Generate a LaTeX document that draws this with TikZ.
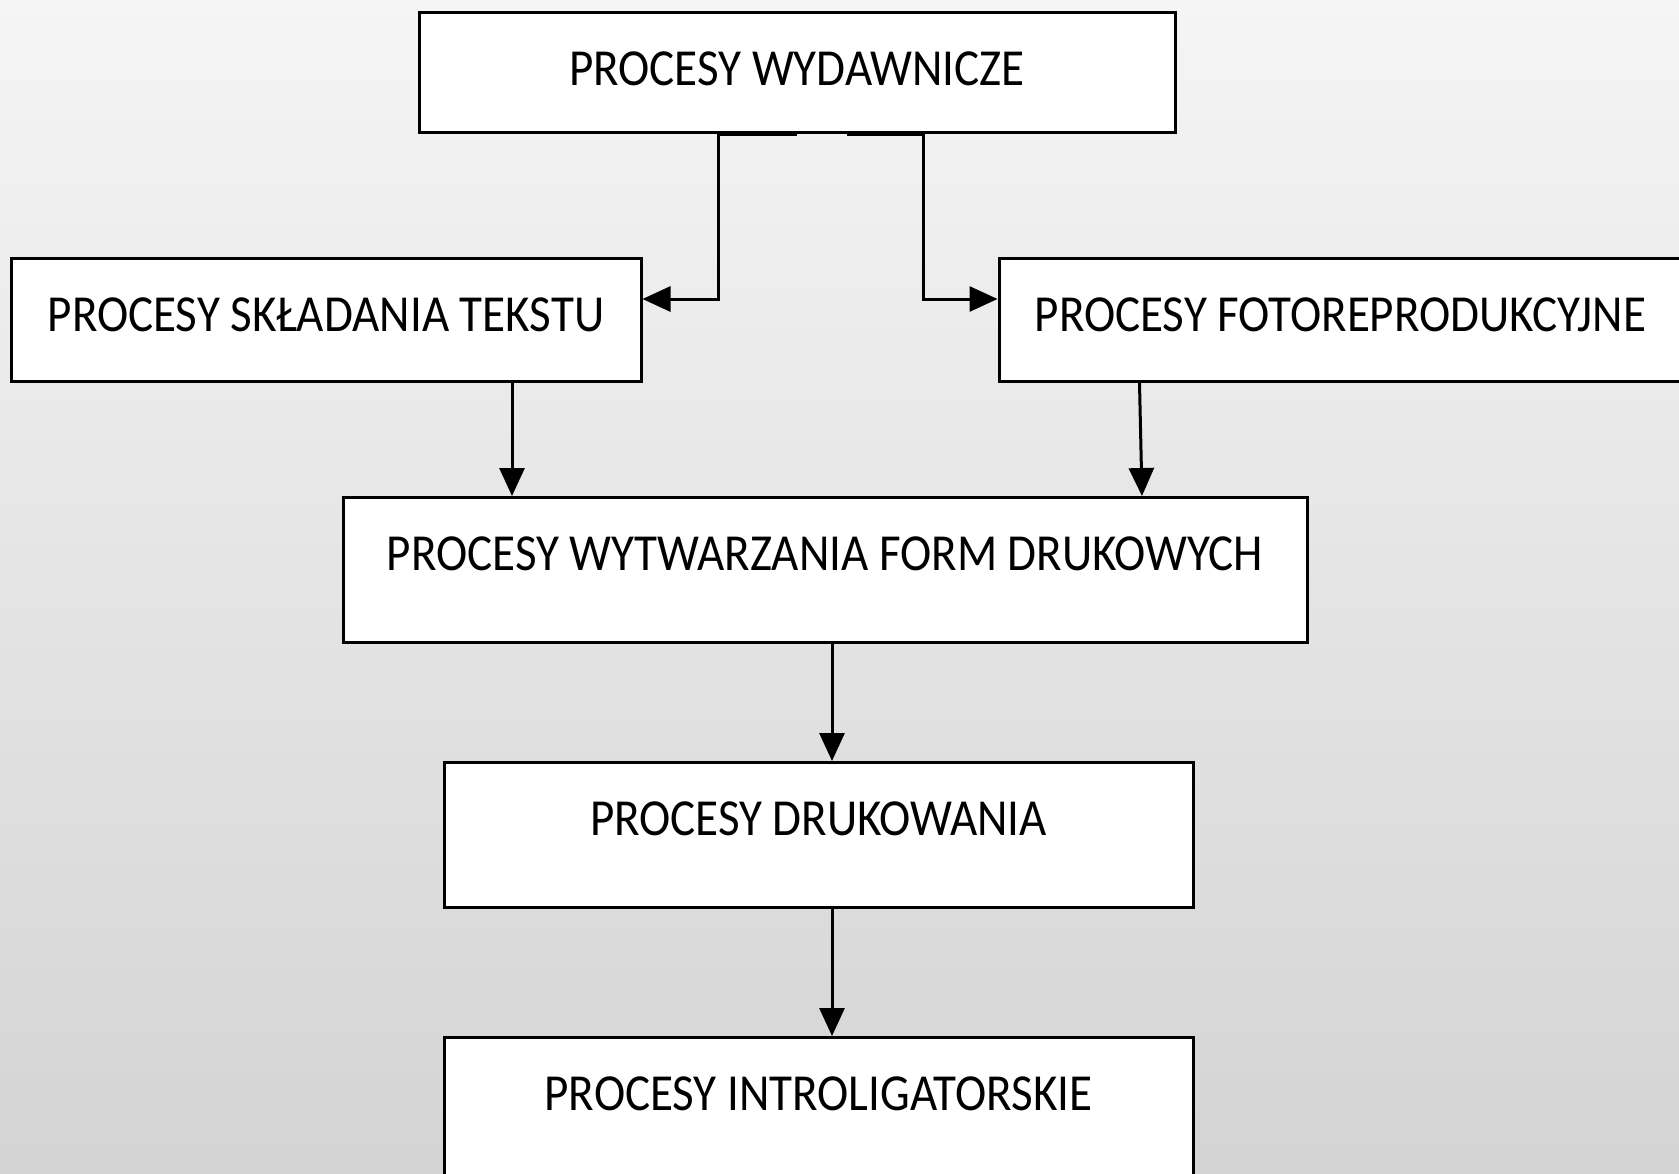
\documentclass[tikz,border=0pt]{standalone}
\usepackage{fontspec}
\setmainfont[FakeStretch=0.905]{Carlito}
\usetikzlibrary{arrows.meta, calc, positioning}
\tikzstyle{line} = [draw, line width=3pt, -{Triangle[length=28pt, width=25pt]}]
\tikzstyle{block} = [rectangle, draw, fill=white, line width=3pt, inner sep=0pt, text centered, anchor=north, text height=73pt, font=\fontsize{52}{60}\selectfont]

\begin{document}
\begin{tikzpicture}[x=1pt, y=-1pt]
\shade [top color=black!4, bottom color=black!17] (0,0) rectangle (1679,1173);
\useasboundingbox (0,0) rectangle (1679,1173);
\node [block, minimum width=756pt, text depth=47pt] (wydawnicze) at (797,11) {PROCESY WYDAWNICZE};
\node [block, minimum width=630pt, text depth=50pt] (skladanie) at (326,257) {PROCESY SKŁADANIA TEKSTU};
\node [block, minimum width=683pt, text depth=50pt] (fotorepro) at (1340.5,257) {PROCESY FOTOREPRODUKCYJNE};
\node [block, minimum width=964pt, text depth=72pt] (formy) at (825,496) {PROCESY WYTWARZANIA FORM DRUKOWYCH};
\node [block, minimum width=749pt, text depth=72pt] (drukowanie) at (818.5,761) {PROCESY DRUKOWANIA};
\node [block, minimum width=749pt, text depth=72pt] (introlig) at (818.5,1036) {PROCESY INTROLIGATORSKIE};
\path [line] (wydawnicze.south) -- ++(-79,0) |- ($(skladanie.north east)+(0,42)$);
\path [line] ([xshift=50pt]wydawnicze.south) -- ++(76,0) |- ($(fotorepro.north west)+(0,42)$);
\path [line] ([xshift=186pt]skladanie.south) -- ([xshift=186pt]skladanie.south |- formy.north);
\path [line] ([xshift=-201pt]fotorepro.south) -- ([xshift=317pt]formy.north);
\path [line] ([xshift=7pt]formy.south) -- ([xshift=7pt]formy.south |- drukowanie.north);
\path [line] ([xshift=13.5pt]drukowanie.south) -- ([xshift=13.5pt]introlig.north);
\end{tikzpicture}
\end{document}
